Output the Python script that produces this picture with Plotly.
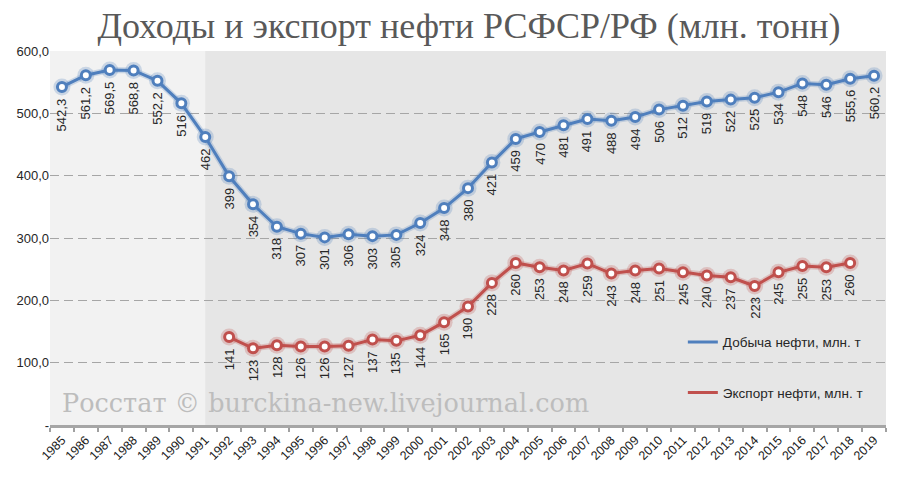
import plotly.graph_objects as go

years = list(range(1985, 2020))
production = [542.3, 561.2, 569.5, 568.8, 552.2, 516, 462, 399, 354, 318, 307, 301, 306, 303, 305,
              324, 348, 380, 421, 459, 470, 481, 491, 488, 494, 506, 512, 519, 522, 525, 534, 548,
              546, 555.6, 560.2]
export_years = list(range(1992, 2019))
export = [141, 123, 128, 126, 126, 127, 137, 135, 144, 165, 190, 228, 260, 253, 248, 259, 243,
          248, 251, 245, 240, 237, 223, 245, 255, 253, 260]
y_ticks = [0, 100, 200, 300, 400, 500, 600]
y_ticktext = ["-", "100,0", "200,0", "300,0", "400,0", "500,0", "600,0"]
shade_start_year = 1991

title = "Доходы и экспорт нефти РСФСР/РФ (млн. тонн)"
name_prod = "Добыча нефти, млн. т"
name_exp = "Экспорт нефти, млн. т"
watermark = "Росстат © burckina-new.livejournal.com"

BLUE = "#4f7fbd"
RED = "#c0504d"

xs = [str(y) for y in years]
xe = [str(y) for y in export_years]


def fmt(v):
    return (f"{v:.1f}".replace(".", ",")) if v != int(v) else str(int(v))


fig = go.Figure()

for x, y, c, glow, nm in [(xs, production, BLUE, "rgba(79,127,189,0.25)", name_prod),
                          (xe, export, RED, "rgba(192,80,77,0.25)", name_exp)]:
    fig.add_trace(go.Scatter(x=x, y=y, mode="lines", line=dict(color=glow, width=6),
                             showlegend=False, hoverinfo="skip"))
    fig.add_trace(go.Scatter(x=x, y=y, mode="markers",
                             marker=dict(size=17, color=glow), showlegend=False, hoverinfo="skip"))
    fig.add_trace(go.Scatter(x=x, y=y, mode="lines", name=nm, legendgroup=nm,
                             line=dict(color=c, width=3)))
    fig.add_trace(go.Scatter(x=x, y=y, mode="markers", showlegend=False,
                             marker=dict(size=9, color="white", line=dict(color=c, width=3))))

annotations = []
for yrs, y in [(years, production), (export_years, export)]:
    for yr, yi in zip(yrs, y):
        annotations.append(dict(x=years.index(yr), y=yi, xref="x", yref="y", text=fmt(yi),
                                showarrow=False, textangle=-90, yanchor="top", xanchor="center",
                                yshift=-9,
                                font=dict(family="Liberation Sans", size=13, color="#262626")))

annotations.append(dict(x=0.012, y=0.059, xref="paper", yref="paper", text=watermark,
                        showarrow=False, xanchor="left", yanchor="middle",
                        font=dict(family="DejaVu Serif", size=25.5, color="#bdbdbd")))

fig.update_layout(
    width=900, height=479,
    margin=dict(l=50, r=14, t=51, b=54),
    paper_bgcolor="white",
    plot_bgcolor="#f2f2f2",
    title=dict(text=title, x=469 / 900, xanchor="center", y=1 - 25 / 479, yanchor="middle",
               yref="container",
               font=dict(family="Liberation Serif", size=36, color="#595959")),
    xaxis=dict(type="category", categoryorder="array", categoryarray=xs,
               range=[-0.5, len(xs) - 0.5],
               tickson="boundaries", ticks="outside", ticklen=4, tickcolor="#a0a0a0",
               tickwidth=1.5, showgrid=False, showline=True, linecolor="#a6a6a6", linewidth=3,
               tickangle=-45, tickfont=dict(family="Liberation Sans", size=12.5, color="#1a1a1a")),
    yaxis=dict(range=[0, 600], tickvals=y_ticks, ticktext=y_ticktext, showgrid=True,
               gridcolor="#a6a6a6", griddash="9px,5px", gridwidth=1.3, zeroline=False,
               tickfont=dict(family="Liberation Sans", size=13, color="#262626"),
               fixedrange=True),
    legend=dict(x=0.757, y=0.263, xanchor="left", yanchor="top", bgcolor="rgba(0,0,0,0)",
                font=dict(family="Liberation Sans", size=13.5, color="#262626"),
                itemwidth=30, tracegroupgap=30),
    showlegend=True,
    annotations=annotations,
    shapes=[dict(type="rect", xref="x", yref="paper", x0=years.index(shade_start_year),
                 x1=len(years) - 0.5, y0=0, y1=1, fillcolor="#e6e6e6", line=dict(width=0),
                 layer="below")],
)

fig.write_html("out.html")
